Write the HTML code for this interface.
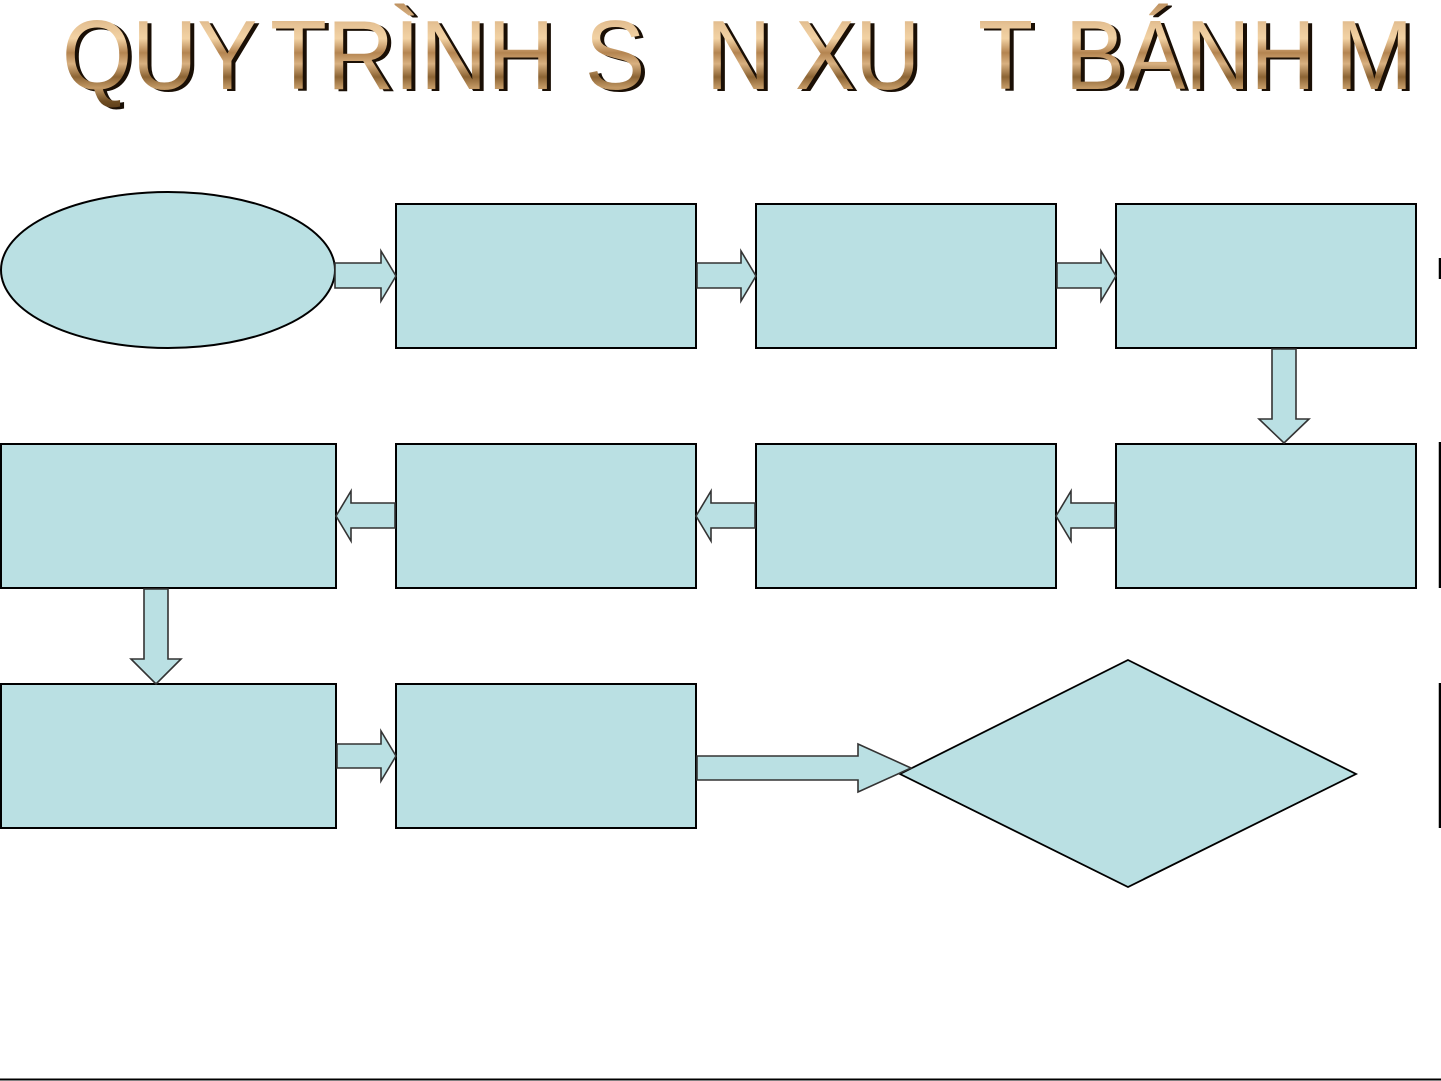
<!DOCTYPE html>
<html>
<head>
<meta charset="utf-8">
<style>
  html,body{margin:0;padding:0;background:#fff;}
  body{width:1441px;height:1081px;position:relative;overflow:hidden;}
  svg{position:absolute;left:0;top:0;}
  .t{position:absolute;top:0;height:110px;font-family:"Liberation Sans","DejaVu Sans",sans-serif;font-size:98px;line-height:110px;white-space:nowrap;transform-origin:0 0;}
  .sh{color:#1a0f05;}
  .g{color:transparent;background:linear-gradient(180deg,#b88a58 0%,#e6c294 22%,#f2d2a4 35%,#b48450 48%,#d8b080 58%,#8c6434 70%,#c49a66 80%,#6e4c22 92%,#5a3c18 100%);-webkit-background-clip:text;background-clip:text;}
</style>
</head>
<body>
<!-- Title: shadow layer -->
<div class="t sh" style="left:66px;top:2px;transform:scaleX(0.92)">QUY</div>
<div class="t sh" style="left:274px;top:2px;transform:scaleX(0.95)">TRÌNH</div>
<div class="t sh" style="left:589px;top:2px;transform:scaleX(0.92)">S</div>
<div class="t sh" style="left:710px;top:2px;transform:scaleX(0.92)">N</div>
<div class="t sh" style="left:799px;top:2px;transform:scaleX(0.92)">XU</div>
<div class="t sh" style="left:982px;top:2px;transform:scaleX(0.92)">T</div>
<div class="t sh" style="left:1069px;top:2px;transform:scaleX(0.92)">BÁNH</div>
<div class="t sh" style="left:1339px;top:2px;transform:scaleX(0.96)">M</div>
<!-- Title: gold layer -->
<div class="t g" style="left:62px;transform:scaleX(0.92)">QUY</div>
<div class="t g" style="left:270px;transform:scaleX(0.95)">TRÌNH</div>
<div class="t g" style="left:585px;transform:scaleX(0.92)">S</div>
<div class="t g" style="left:706px;transform:scaleX(0.92)">N</div>
<div class="t g" style="left:795px;transform:scaleX(0.92)">XU</div>
<div class="t g" style="left:978px;transform:scaleX(0.92)">T</div>
<div class="t g" style="left:1065px;transform:scaleX(0.92)">BÁNH</div>
<div class="t g" style="left:1335px;transform:scaleX(0.96)">M</div>

<svg width="1441" height="1081" viewBox="0 0 1441 1081" xmlns="http://www.w3.org/2000/svg">
  <g fill="#BAE0E3" stroke="#000" stroke-width="2">
    <!-- Row 1 -->
    <ellipse cx="168" cy="270" rx="167" ry="78"/>
    <rect x="396" y="204" width="300" height="144"/>
    <rect x="756" y="204" width="300" height="144"/>
    <rect x="1116" y="204" width="300" height="144"/>
    <!-- Row 2 -->
    <rect x="1" y="444" width="335" height="144"/>
    <rect x="396" y="444" width="300" height="144"/>
    <rect x="756" y="444" width="300" height="144"/>
    <rect x="1116" y="444" width="300" height="144"/>
    <!-- Row 3 -->
    <rect x="1" y="684" width="335" height="144"/>
    <rect x="396" y="684" width="300" height="144"/>
    <polygon points="1128,660 1356,774 1128,887 900,774" stroke-width="1.8"/>
  </g>
  <g fill="#BAE0E3" stroke="#333" stroke-width="1.6" stroke-linejoin="miter">
    <!-- Row 1 right arrows -->
    <polygon points="335,263 381,263 381,251 396,276 381,301 381,288 335,288"/>
    <polygon points="697,263 741,263 741,251 756,276 741,301 741,288 697,288"/>
    <polygon points="1057,263 1101,263 1101,251 1116,276 1101,301 1101,288 1057,288"/>
    <!-- Down arrow right -->
    <polygon points="1272,349 1296,349 1296,419 1309,419 1284,443 1259,419 1272,419"/>
    <!-- Row 2 left arrows -->
    <polygon points="1115,503 1071,503 1071,491 1056,516 1071,541 1071,528 1115,528"/>
    <polygon points="755,503 711,503 711,491 696,516 711,541 711,528 755,528"/>
    <polygon points="395,503 351,503 351,491 336,516 351,541 351,528 395,528"/>
    <!-- Down arrow left -->
    <polygon points="144,589 168,589 168,659 181,659 156,684 131,659 144,659"/>
    <!-- Row 3 arrows -->
    <polygon points="337,744 381,744 381,731 396,756 381,781 381,768 337,768"/>
    <polygon points="697,756 858,756 858,744 911,768 858,792 858,780 697,780"/>
  </g>
  <!-- right edge partial marks -->
  <g stroke="#000" stroke-width="2.5">
    <line x1="1440" y1="258" x2="1440" y2="279"/>
    <line x1="1440" y1="442" x2="1440" y2="588"/>
    <line x1="1440" y1="683" x2="1440" y2="828"/>
  </g>
  <!-- bottom line -->
  <line x1="0" y1="1079.5" x2="1441" y2="1079.5" stroke="#000" stroke-width="2"/>
</svg>
</body>
</html>
